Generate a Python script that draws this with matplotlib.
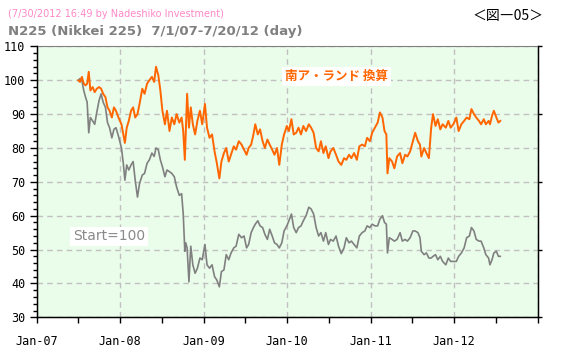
import matplotlib
matplotlib.use("Agg")
import matplotlib.pyplot as plt
import matplotlib.dates as mdates
import pandas as pd

dates = [
"2007-07-02","2007-07-10","2007-07-18","2007-07-26","2007-08-03","2007-08-10","2007-08-17","2007-08-24",
"2007-09-03","2007-09-12","2007-09-21","2007-10-01","2007-10-10","2007-10-19","2007-10-29","2007-11-07",
"2007-11-16","2007-11-26","2007-12-05","2007-12-14","2007-12-25","2008-01-07","2008-01-15","2008-01-22",
"2008-01-30","2008-02-08","2008-02-18","2008-02-27","2008-03-07","2008-03-17","2008-03-26","2008-04-07",
"2008-04-17","2008-04-28","2008-05-08","2008-05-19","2008-05-29","2008-06-06","2008-06-16","2008-06-25",
"2008-07-04","2008-07-15","2008-07-24","2008-08-04","2008-08-14","2008-08-25","2008-09-04","2008-09-16",
"2008-09-26","2008-10-03","2008-10-10","2008-10-14","2008-10-20","2008-10-28","2008-11-05","2008-11-14",
"2008-11-24","2008-12-04","2008-12-15","2008-12-25","2009-01-06","2009-01-15","2009-01-26","2009-02-06",
"2009-02-17","2009-02-27","2009-03-10","2009-03-19","2009-03-30","2009-04-09","2009-04-20","2009-04-30",
"2009-05-12","2009-05-22","2009-06-03","2009-06-15","2009-06-26","2009-07-07","2009-07-16","2009-07-27",
"2009-08-06","2009-08-14","2009-08-25","2009-09-04","2009-09-15","2009-09-25","2009-10-06","2009-10-16",
"2009-10-27","2009-11-06","2009-11-17","2009-11-27","2009-12-08","2009-12-18","2009-12-30","2010-01-08",
"2010-01-19","2010-01-29","2010-02-09","2010-02-19","2010-03-02","2010-03-12","2010-03-24","2010-04-05",
"2010-04-15","2010-04-26","2010-05-07","2010-05-18","2010-05-28","2010-06-08","2010-06-18","2010-06-30",
"2010-07-09","2010-07-21","2010-08-02","2010-08-13","2010-08-25","2010-09-06","2010-09-16","2010-09-28",
"2010-10-08","2010-10-20","2010-11-01","2010-11-12","2010-11-24","2010-12-06","2010-12-16","2010-12-28",
"2011-01-07","2011-01-19","2011-01-31","2011-02-10","2011-02-21","2011-03-02","2011-03-10","2011-03-15",
"2011-03-23","2011-04-04","2011-04-14","2011-04-26","2011-05-09","2011-05-19","2011-05-31","2011-06-10",
"2011-06-22","2011-07-04","2011-07-14","2011-07-26","2011-08-04","2011-08-10","2011-08-22","2011-09-01",
"2011-09-12","2011-09-22","2011-09-30","2011-10-11","2011-10-21","2011-11-01","2011-11-11","2011-11-25",
"2011-12-06","2011-12-16","2011-12-28","2012-01-10","2012-01-20","2012-02-01","2012-02-13","2012-02-24",
"2012-03-07","2012-03-16","2012-03-27","2012-04-06","2012-04-18","2012-04-27","2012-05-09","2012-05-18",
"2012-05-30","2012-06-05","2012-06-14","2012-06-22","2012-07-03","2012-07-12","2012-07-20",
]

nikkei_zar = [
100.0,99.5,101.0,99.0,98.5,99.0,102.5,97.0,
98.0,96.5,97.5,98.0,97.5,96.0,95.0,92.0,
91.0,89.0,92.0,91.0,89.0,87.0,84.0,81.5,
86.0,88.0,91.0,92.0,89.0,90.0,93.0,97.5,
96.0,99.0,100.0,101.0,99.5,104.0,101.5,97.0,
91.0,87.0,91.0,85.0,89.0,87.0,90.0,87.5,
89.0,85.0,76.5,84.0,96.0,86.0,92.0,87.0,
84.0,88.0,91.0,87.0,93.0,86.0,83.0,84.0,
79.0,75.5,71.0,76.0,78.5,80.0,76.0,78.0,
80.5,79.5,82.0,81.0,79.5,78.0,80.0,81.0,
84.0,87.0,84.0,85.5,82.0,80.0,82.5,81.0,
79.5,78.0,80.0,75.0,81.0,84.0,86.5,85.0,
88.5,84.0,84.5,86.0,84.0,86.5,85.0,87.0,
86.0,84.5,80.0,79.0,82.0,78.5,80.5,77.0,
79.0,80.0,78.0,76.0,75.0,77.0,76.5,78.0,
77.0,78.5,76.5,80.5,81.0,80.5,83.0,82.0,
84.5,86.0,87.5,90.5,89.0,85.0,84.0,72.5,
77.0,76.0,74.0,77.5,78.5,75.5,78.0,77.5,
79.0,82.0,84.5,82.0,81.0,77.5,80.0,78.5,
77.0,86.0,90.0,86.5,88.5,85.5,87.0,86.0,
88.0,86.0,87.0,89.0,85.0,87.0,88.0,89.0,
88.5,91.5,90.0,89.0,88.0,87.0,88.5,87.0,
88.0,87.0,89.5,91.0,89.0,87.5,88.0,
]

nikkei_jpy = [
100.0,100.5,100.0,97.0,95.0,93.5,84.5,89.0,
88.0,87.0,90.5,94.0,96.0,93.5,92.0,87.5,
86.0,83.0,85.5,86.0,83.5,80.0,75.5,70.5,
75.0,73.5,75.0,76.0,70.5,65.5,69.5,72.0,
72.5,75.5,76.5,78.5,77.5,80.0,79.5,76.5,
74.5,71.5,73.5,73.0,72.5,71.5,68.5,66.0,
66.5,60.5,49.5,52.0,50.5,40.5,51.0,45.5,
43.0,44.5,47.5,47.0,51.5,45.5,44.5,45.5,
42.0,41.0,39.0,43.5,44.0,48.5,47.0,49.0,
50.5,51.0,54.5,53.5,54.0,50.5,51.5,55.0,
56.5,57.5,58.5,57.0,56.5,54.5,53.0,56.0,
54.0,52.0,51.5,50.5,52.0,55.5,57.0,58.5,
60.5,56.5,55.0,56.5,57.0,58.5,60.0,62.5,
62.0,60.5,56.5,54.0,55.0,52.5,55.0,51.5,
53.0,52.5,54.0,51.0,48.8,50.5,53.5,52.0,
52.5,51.5,50.5,54.0,55.0,55.5,57.0,56.5,
57.5,57.0,57.0,59.0,60.0,58.0,57.5,49.0,
53.5,53.0,52.5,53.0,55.0,52.5,53.0,52.5,
53.5,55.5,55.5,55.0,53.5,49.5,48.5,49.0,
47.5,47.5,48.0,48.5,47.0,48.0,46.5,45.5,
47.5,46.5,46.5,46.5,48.0,49.0,50.5,53.5,
54.0,56.5,55.5,53.0,52.5,52.5,50.5,48.5,
47.5,45.5,47.0,49.0,49.5,48.0,48.0,
]

tick_dates = ["2007-01-01","2008-01-01","2009-01-01","2010-01-01","2011-01-01","2012-01-01","2013-01-01"]
tick_labels = ["Jan-07","Jan-08","Jan-09","Jan-10","Jan-11","Jan-12",""]
y_ticks = [30, 40, 50, 60, 70, 80, 90, 100, 110]

x = pd.to_datetime(dates)
W, H = 566, 349
fig = plt.figure(figsize=(W/100, H/100), dpi=100)
fig.patch.set_facecolor("white")
l, r, t, b = 36.6, 538.0, 46.4, 317.3
ax = fig.add_axes([l/W, 1-b/H, (r-l)/W, (b-t)/H])
ax.set_facecolor("#eafcea")

ax.plot(x, nikkei_jpy, color="#808080", lw=1.2, zorder=3)
ax.plot(x, nikkei_zar, color="#ff6600", lw=1.4, zorder=4)

ax.set_xlim(pd.Timestamp("2007-01-01"), pd.Timestamp("2013-01-01"))
ax.set_ylim(30, 110)
ax.set_yticks(y_ticks)
ax.set_yticks(range(30, 111, 2), minor=True)
ax.set_xticks(pd.to_datetime(tick_dates))
ax.set_xticklabels(tick_labels)
ax.xaxis.set_minor_locator(mdates.MonthLocator(bymonth=7))

ax.grid(True, which="major", color="#c0c0c0", linestyle=(0, (4, 3)), lw=1.0, zorder=1)
ax.set_axisbelow(True)

for s in ["left", "bottom", "right"]:
    ax.spines[s].set_color("black")
    ax.spines[s].set_linewidth(1.0)
ax.spines["top"].set_color("#808080")

ax.tick_params(axis="y", which="major", direction="out", length=5, width=1, labelsize=8.5, pad=3)
ax.tick_params(axis="y", which="minor", direction="out", length=3, width=1)
ax.tick_params(axis="x", which="major", direction="out", length=4, width=1, labelsize=8.5, pad=9)
ax.tick_params(axis="x", which="minor", direction="out", length=4, width=1)
for lab in ax.get_xticklabels() + ax.get_yticklabels():
    lab.set_family("DejaVu Sans Mono")

# right side ticks
ax2 = ax.twinx()
ax2.set_ylim(30, 110)
ax2.set_yticks([30, 50, 70, 90, 110])
ax2.set_yticklabels([])
ax2.tick_params(axis="y", direction="out", length=3, width=1)
ax2.spines["top"].set_visible(False)

ax.text((285-l)/(r-l), (b-76.5)/(b-t), "南ア・ランド 換算", transform=ax.transAxes,
        color="#ff6600", fontsize=9, fontweight="bold", va="center", ha="left",
        family=["Noto Sans CJK JP", "DejaVu Sans"],
        bbox=dict(facecolor="white", edgecolor="none", pad=2), zorder=6)
ax.text((73-l)/(r-l), (b-236.5)/(b-t), "Start=100", transform=ax.transAxes,
        color="#8a8a8a", fontsize=10, va="center", ha="left",
        bbox=dict(facecolor="white", edgecolor="none", pad=2), zorder=6)

fig.text(8/W, 1-14/H, "(7/30/2012 16:49 by Nadeshiko Investment)", color="#ff88c8",
         fontsize=7, va="center", ha="left")
fig.text(8/W, 1-31/H, "N225 (Nikkei 225)  7/1/07-7/20/12 (day)", color="#808080",
         fontsize=9.5, fontweight="bold", va="center", ha="left")
fig.text(473/W, 1-16/H, "＜図―05＞", color="black", fontsize=10,
         family=["Noto Sans CJK JP", "DejaVu Sans"], va="center", ha="left")

fig.savefig("out.png", dpi=100)
